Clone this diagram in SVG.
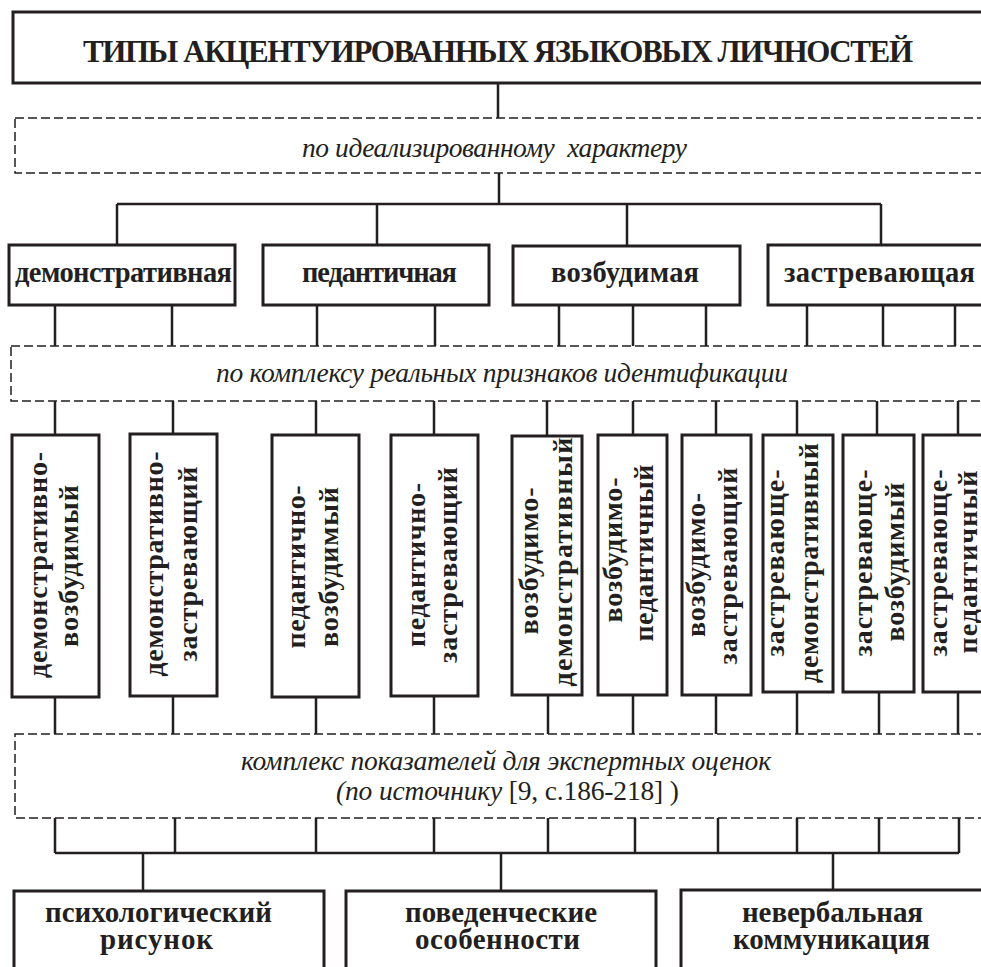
<svg xmlns="http://www.w3.org/2000/svg" width="981" height="967" viewBox="0 0 981 967">
<style>
.box{fill:#fff;stroke:#231f20;stroke-width:3}
.dash{fill:none;stroke:#231f20;stroke-width:1.5;stroke-dasharray:9 4}
.conn{fill:none;stroke:#231f20;stroke-width:2.5}
.t{font-family:"Liberation Serif","Times New Roman",serif;fill:#231f20}
.b{font-weight:bold}
.it{font-style:italic}
.m{text-anchor:middle}
.v{font-size:28px}
</style>
<rect width="981" height="967" fill="#fff"/>
<g id="connectors">
<path class="conn" d="M498 83V118 M499 173V204 M117 204H881 M117 204V245 M377 204V245 M627 204V246 M881 204V245
M55 305V346 M172 305V346 M317 305V346 M435 305V346 M559 305V346 M633 305V346 M706 305V346 M807 305V346 M883 305V346 M955 305V346
M55 401V435 M173 401V434 M316 401V435 M434 401V435 M547 401V436 M633 401V435 M716 401V435 M797 401V435 M877 401V435 M958 401V435
M55 697V734 M173 696V734 M316 697V734 M434 696V734 M548 695V734 M633 695V734 M716 695V734 M797 692V734 M879 692V734 M958 692V734
M55 818V853 M175 818V853 M316 818V853 M434 818V853 M548 818V853 M635 818V853 M718 818V853 M797 818V853 M879 818V853 M959 818V853
M55 853H959 M143 853V891 M501 853V891 M833 853V890"/>
</g>
<g id="title">
<rect class="box" x="13" y="12" width="990" height="71"/>
<text class="t b" x="83" y="62" font-size="31" textLength="830">ТИПЫ АКЦЕНТУИРОВАННЫХ ЯЗЫКОВЫХ ЛИЧНОСТЕЙ</text>
</g>
<g id="crit1">
<rect class="dash" x="15" y="118" width="990" height="55"/>
<text class="t it" x="302" y="157" font-size="27.5" textLength="385" style="white-space:pre">по идеализированному  характеру</text>
</g>
<g id="demonstr">
<rect class="box" x="9" y="245" width="226" height="60"/>
<text class="t b" x="15" y="282" font-size="28.5" textLength="217">демонстративная</text>
</g>
<g id="pedant">
<rect class="box" x="263" y="245" width="226" height="60"/>
<text class="t b" x="302" y="282" font-size="28.5" textLength="155">педантичная</text>
</g>
<g id="vozb">
<rect class="box" x="513" y="246" width="227" height="59"/>
<text class="t b" x="551" y="282" font-size="28.5" textLength="148">возбудимая</text>
</g>
<g id="zastr">
<rect class="box" x="768" y="245" width="240" height="60"/>
<text class="t b" x="784" y="282" font-size="28.5" textLength="191">застревающая</text>
</g>
<g id="crit2">
<rect class="dash" x="11" y="346" width="990" height="55"/>
<text class="t it" x="216" y="382" font-size="27.5" textLength="572">по комплексу реальных признаков идентификации</text>
</g>
<g id="v1">
<rect class="box" x="12" y="435" width="87" height="262"/>
<text class="t b m v" transform="translate(47 565) rotate(-90)" textLength="226">демонстративно-</text>
<text class="t b m v" transform="translate(78 566) rotate(-90)" textLength="162">возбудимый</text>
</g>
<g id="v2">
<rect class="box" x="130" y="434" width="87" height="262"/>
<text class="t b m v" transform="translate(163 564) rotate(-90)" textLength="225">демонстративно-</text>
<text class="t b m v" transform="translate(197 564) rotate(-90)" textLength="195">застревающий</text>
</g>
<g id="v3">
<rect class="box" x="272" y="435" width="87" height="262"/>
<text class="t b m v" transform="translate(305 567) rotate(-90)" textLength="163">педантично-</text>
<text class="t b m v" transform="translate(338 567) rotate(-90)" textLength="160">возбудимый</text>
</g>
<g id="v4">
<rect class="box" x="391" y="435" width="87" height="261"/>
<text class="t b m v" transform="translate(425 565) rotate(-90)" textLength="164">педантично-</text>
<text class="t b m v" transform="translate(457 565) rotate(-90)" textLength="196">застревающий</text>
</g>
<g id="v5">
<rect class="box" x="512" y="436" width="70" height="259"/>
<text class="t b m v" transform="translate(538 561) rotate(-90)" textLength="147">возбудимо-</text>
<text class="t b m v" transform="translate(572 562) rotate(-90)" textLength="249">демонстративный</text>
</g>
<g id="v6">
<rect class="box" x="598" y="435" width="69" height="260"/>
<text class="t b m v" transform="translate(622 550) rotate(-90)" textLength="145">возбудимо-</text>
<text class="t b m v" transform="translate(653 553) rotate(-90)" textLength="177">педантичный</text>
</g>
<g id="v7">
<rect class="box" x="682" y="435" width="69" height="260"/>
<text class="t b m v" transform="translate(705 565) rotate(-90)" textLength="144">возбудимо-</text>
<text class="t b m v" transform="translate(737 566) rotate(-90)" textLength="197">застревающий</text>
</g>
<g id="v8">
<rect class="box" x="763" y="435" width="70" height="257"/>
<text class="t b m v" transform="translate(784 563) rotate(-90)" textLength="187">застревающе-</text>
<text class="t b m v" transform="translate(818 563) rotate(-90)" textLength="240">демонстративный</text>
</g>
<g id="v9">
<rect class="box" x="843" y="435" width="71" height="257"/>
<text class="t b m v" transform="translate(872 563) rotate(-90)" textLength="187">застревающе-</text>
<text class="t b m v" transform="translate(904 562) rotate(-90)" textLength="159">возбудимый</text>
</g>
<g id="v10">
<rect class="box" x="923" y="435" width="80" height="257"/>
<text class="t b m v" transform="translate(947 563) rotate(-90)" textLength="187">застревающе-</text>
<text class="t b m v" transform="translate(977 562) rotate(-90)" textLength="183">педантичный</text>
</g>
<g id="crit3">
<rect class="dash" x="15" y="734" width="990" height="84"/>
<text class="t it" font-size="27.5"><tspan x="241" y="770" textLength="530">комплекс показателей для экспертных оценок</tspan><tspan x="336" y="800" textLength="343">(по источнику<tspan font-style="normal"> [9, с.186-218] )</tspan></tspan></text>
</g>
<g id="psych">
<rect class="box" x="14" y="891" width="310" height="90"/>
<text class="t b" font-size="29"><tspan x="45" y="922" textLength="227">психологический</tspan><tspan x="100" y="949" textLength="113">рисунок</tspan></text>
</g>
<g id="behav">
<rect class="box" x="346" y="891" width="310" height="90"/>
<text class="t b" font-size="29"><tspan x="405" y="922" textLength="192">поведенческие</tspan><tspan x="415" y="949" textLength="165">особенности</tspan></text>
</g>
<g id="nonverb">
<rect class="box" x="681" y="890" width="320" height="90"/>
<text class="t b" font-size="29"><tspan x="742" y="922" textLength="181">невербальная</tspan><tspan x="733" y="949" textLength="197">коммуникация</tspan></text>
</g>
</svg>
